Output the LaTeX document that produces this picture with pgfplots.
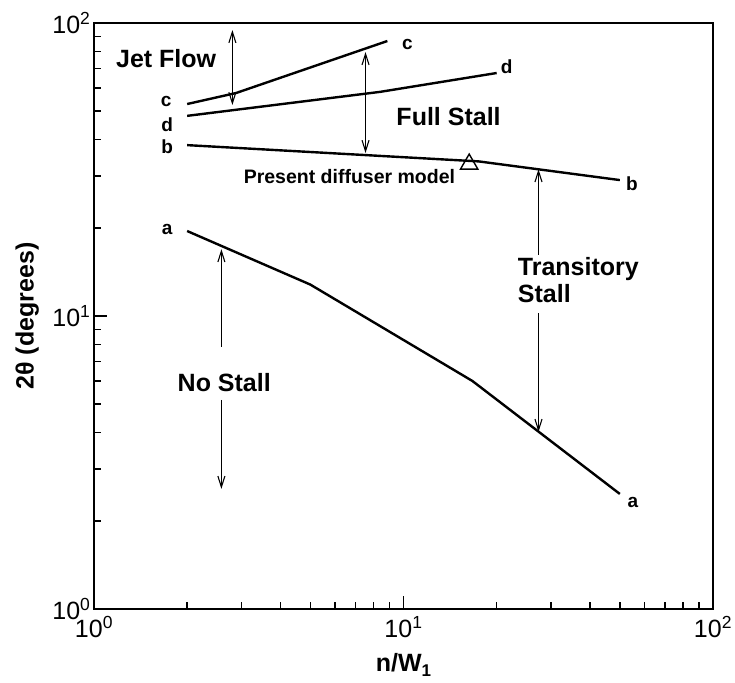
\documentclass[border=0pt]{standalone}
\usepackage{fontspec}
\setmainfont{Liberation Sans}
\usepackage{pgfplots}
\pgfplotsset{compat=1.18}
\usetikzlibrary{arrows.meta}

\tikzset{
  barb/.tip={Straight Barb[length=11pt,width=7pt,line width=1.1pt]},
  dimline/.style={line width=1.1pt, black},
  region/.style={font=\fontsize{25}{27}\bfseries\selectfont, inner sep=0pt},
  curvename/.style={font=\fontsize{19}{21}\bfseries\selectfont, inner sep=0pt},
}

\begin{document}
\begin{tikzpicture}
\useasboundingbox (-94pt,-73pt) rectangle (641pt,609pt);
\begin{axis}[
  at={(0pt,0pt)}, anchor=south west,
  scale only axis, width=619pt, height=586pt,
  xmode=log, ymode=log,
  xmin=1, xmax=100, ymin=1, ymax=100,
  axis line style={line width=2.6pt},
  xtick={1,10,100}, ytick={1,10,100},
  xticklabels={10\textsuperscript{0},10\textsuperscript{1},10\textsuperscript{2}},
  yticklabels={10\textsuperscript{0},10\textsuperscript{1},10\textsuperscript{2}},
  xtick pos=bottom, ytick pos=left,
  tick align=inside,
  major tick length=13pt, minor tick length=7pt,
  every tick/.style={line width=1.5pt, black},
  ticklabel style={font=\fontsize{25}{27}\selectfont},
  xticklabel style={yshift=-4pt},
  xlabel={n/W\raisebox{-5pt}{\fontsize{17}{17}\selectfont 1}},
  ylabel={2θ (degrees)},
  xlabel style={at={(axis description cs:0.5,-0.1075)}, anchor=base,
    font=\fontsize{25}{27}\bfseries\selectfont},
  ylabel style={at={(axis description cs:-0.108,0.5)}, anchor=center,
    font=\fontsize{25}{27}\bfseries\selectfont},
  clip=false,
]

% boundary curves a-d
\addplot[black, line width=2.4pt] coordinates {(2,19.5) (5,12.8) (16.7,6.0) (50,2.47)};
\addplot[black, line width=2.4pt] coordinates {(2,38.3) (17.5,33.7) (50,29.1)};
\addplot[black, line width=2.4pt] coordinates {(2,52.9) (2.88,57.7) (8.87,86.8)};
\addplot[black, line width=2.4pt] coordinates {(2,48.2) (8.4,58.2) (20,67.5)};

% present diffuser model
\addplot[only marks, mark=triangle, mark size=10pt,
  mark options={line width=1.4pt, fill=white, draw=black}] coordinates {(16.3,33.0)};

% regime extents
\draw[dimline, barb-barb] (axis cs:2.8,94.6) -- (axis cs:2.8,52.5);
\draw[dimline, barb-barb] (axis cs:7.54,79.6) -- (axis cs:7.54,36.0);
\draw[dimline, -barb] (axis cs:27.3,16.2) -- (axis cs:27.3,31.7);
\draw[dimline, -barb] (axis cs:27.3,10.2) -- (axis cs:27.3,4.02);
\draw[dimline, -barb] (axis cs:2.58,7.84) -- (axis cs:2.58,16.9);
\draw[dimline, -barb] (axis cs:2.58,5.17) -- (axis cs:2.58,2.57);

% regime names
\node[region] at (rel axis cs:0.1165,0.9386) {Jet Flow};
\node[region] at (rel axis cs:0.5728,0.8396) {Full Stall};
\node[font=\fontsize{19.5}{21}\bfseries\selectfont, inner sep=0pt]
  at (rel axis cs:0.4126,0.7372) {Present diffuser model};
\node[region, align=left, anchor=west] at (rel axis cs:0.6845,0.5614) {Transitory\\Stall};
\node[region] at (rel axis cs:0.2104,0.3857) {No Stall};

% curve names
\node[curvename] at (rel axis cs:0.1165,0.8669) {c};
\node[curvename] at (rel axis cs:0.1181,0.8259) {d};
\node[curvename] at (rel axis cs:0.1181,0.7884) {b};
\node[curvename] at (rel axis cs:0.1181,0.6468) {a};
\node[curvename] at (rel axis cs:0.5065,0.9625) {c};
\node[curvename] at (rel axis cs:0.6667,0.9249) {d};
\node[curvename] at (rel axis cs:0.8689,0.7253) {b};
\node[curvename] at (rel axis cs:0.8706,0.1826) {a};
\end{axis}
\end{tikzpicture}
\end{document}
